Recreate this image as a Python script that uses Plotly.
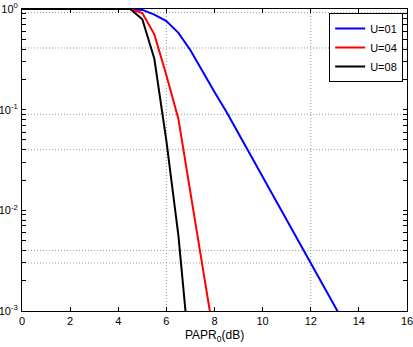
import plotly.graph_objects as go

# Data
papr_db = [0, 0.5, 1, 1.5, 2, 2.5, 3, 3.5, 4, 4.5, 5, 5.5, 6, 6.5, 7, 7.5, 8, 8.5,
           9, 9.5, 10, 10.5, 11, 11.5, 12, 12.5, 13, 13.5]
ccdf_u01 = [1, 1, 1, 1, 1, 1, 1, 1, 1, 1, 0.98, 0.88, 0.76, 0.58, 0.39, 0.24, 0.15, 0.095,
            0.058, 0.035, 0.0216, 0.0132, 0.008, 0.0049, 0.003, 0.0018, 0.0011, 0.00068]
ccdf_u04 = [1, 1, 1, 1, 1, 1, 1, 1, 1, 1, 0.91, 0.56, 0.22, 0.081, 0.015, 0.0028, 0.00052]
ccdf_u08 = [1, 1, 1, 1, 1, 1, 1, 1, 1, 1, 0.79, 0.32, 0.049, 0.0056, 0.0003]
series_names = ["U=01", "U=04", "U=08"]
series_colors = ["#0000ff", "#ff0000", "#000000"]

x_ticks = [0, 2, 4, 6, 8, 10, 12, 14, 16]
y_decades = [1e-3, 1e-2, 1e-1, 1]
y_decade_text = ["10<sup>-3</sup>", "10<sup>-2</sup>", "10<sup>-1</sup>", "10<sup>0</sup>"]
grid_x_vals = [6, 12]
grid_y_vals = [0.92, 0.41, 0.09, 0.04, 0.004, 0.003]

# y tick values incl. minor ticks
y_tickvals, y_ticktext = [], []
for d, t in zip(y_decades, y_decade_text):
    y_tickvals.append(d)
    y_ticktext.append(t)
    if d < 1:
        for m in range(2, 10):
            y_tickvals.append(d * m)
            y_ticktext.append("")

fig = go.Figure()
for ys, name, col in zip([ccdf_u01, ccdf_u04, ccdf_u08], series_names, series_colors):
    fig.add_trace(go.Scatter(x=papr_db[:len(ys)], y=ys, mode="lines", name=name,
                             line=dict(color=col, width=2)))

grid_line = dict(color="#999999", width=1, dash="1px,2px")
for gx in grid_x_vals:
    fig.add_shape(type="line", xref="x", yref="paper", x0=gx, x1=gx, y0=0, y1=1,
                  line=grid_line, layer="below")
for gy in grid_y_vals:
    fig.add_shape(type="line", xref="paper", yref="y", x0=0, x1=1, y0=gy, y1=gy,
                  line=grid_line, layer="below")

fig.add_annotation(text="PAPR<sub>0</sub>(dB)", xref="paper", yref="paper",
                   x=0.5, y=-0.083, xanchor="center", yanchor="middle",
                   showarrow=False, font=dict(size=12))

fig.update_layout(
    width=413, height=347,
    margin=dict(l=22, r=6, t=9, b=36, autoexpand=False),
    paper_bgcolor="white", plot_bgcolor="white",
    font=dict(family="Liberation Sans, Arial, sans-serif", size=11, color="black"),
    showlegend=True,
    legend=dict(x=0.99, y=0.987, xanchor="right", yanchor="top",
                bgcolor="white", bordercolor="black", borderwidth=1,
                font=dict(size=11), tracegroupgap=0),
)
fig.update_xaxes(range=[0, 16], tickvals=x_ticks, showgrid=False, zeroline=False,
                 automargin=False, ticklabeloverflow="allow",
                 showline=True, linecolor="black", linewidth=1, mirror="ticks",
                 ticks="inside", ticklen=4, tickcolor="black")
fig.update_yaxes(type="log", range=[-3, 0], tickvals=y_tickvals, ticktext=y_ticktext,
                 automargin=False, ticklabeloverflow="allow",
                 showgrid=False, zeroline=False, showline=True, linecolor="black",
                 linewidth=1, mirror="ticks", ticks="inside", ticklen=4,
                 tickcolor="black", ticklabelstandoff=1)

fig.write_html("out.html", config={"displayModeBar": False},
               post_script="document.body.style.margin='0';")
